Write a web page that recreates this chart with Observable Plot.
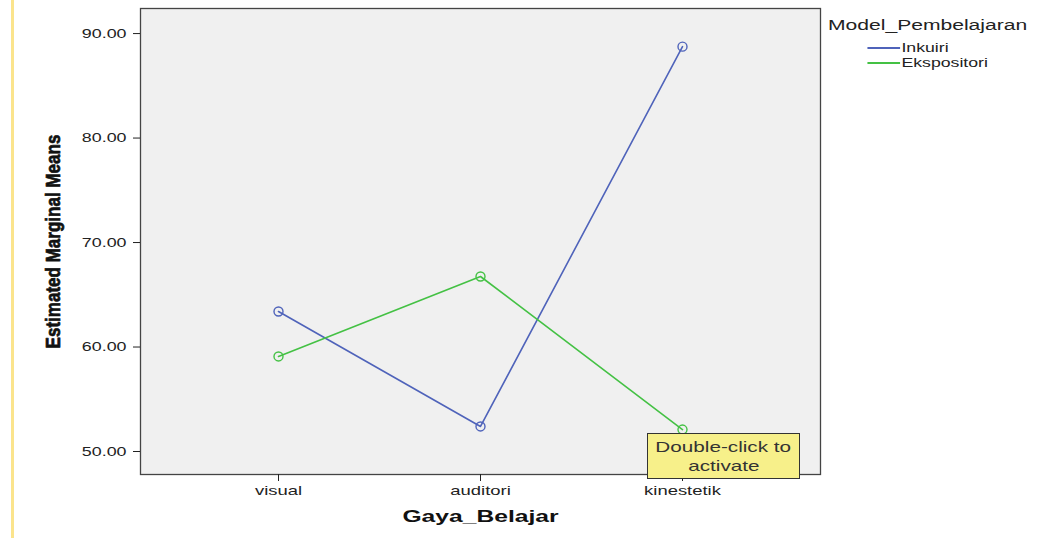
<!DOCTYPE html>
<html><head><meta charset="utf-8">
<script src="https://cdn.jsdelivr.net/npm/d3@7"></script>
<script src="https://cdn.jsdelivr.net/npm/@observablehq/plot@0.6"></script>
<style>
body{margin:0;background:#fff;font-family:"Liberation Sans",Arial,sans-serif;}
#wrap{position:relative;width:1039px;height:538px;overflow:hidden;background:#fff}
#wrap svg{position:absolute;left:0;top:0}
#yline{position:absolute;left:11px;top:0;width:3px;height:538px;background:#fbe48c}
#legend{position:absolute;left:828px;top:16px;color:#222;transform:scaleX(1.36);transform-origin:0 0}
#legend .title{font-size:15.5px}
#legend .item{position:relative;height:15px;font-size:13px;margin-left:29px;padding-left:25px;line-height:15px}
#legend .item span.sw{position:absolute;left:0;top:7px;width:24px;height:2px}
#tip{position:absolute;left:647px;top:433px;width:153px;height:46px;background:#f7f08a;border:1.5px solid #333;box-sizing:border-box;text-align:center;font-size:15px;line-height:19px;color:#333;padding-top:3px}
#tip span{display:inline-block;transform:scaleX(1.38);transform-origin:50% 50%}
</style></head><body><div id="wrap"><div id="yline"></div></div>
<script>
const categories = ["visual", "auditori", "kinestetik"];
const series = ["Inkuiri", "Ekspositori"];
const inkuiri = [63.4, 52.4, 88.75];
const ekspositori = [59.1, 66.75, 52.1];
const yTicks = [50, 60, 70, 80, 90];
const colors = ["#4f63ba", "#44c144"];
const yTitle = "Estimated Marginal Means";
const xTitle = "Gaya_Belajar";
const legendTitle = "Model_Pembelajaran";
const tipLines = ["Double-click to", "activate"];

const data = [];
categories.forEach((c, i) => {
  data.push({g: c, s: series[0], v: inkuiri[i]});
  data.push({g: c, s: series[1], v: ekspositori[i]});
});

const chart = Plot.plot({
  width: 1039, height: 538,
  marginLeft: 140, marginRight: 219, marginTop: 8, marginBottom: 64,
  style: {fontFamily: "'Liberation Sans', Arial, sans-serif", background: "transparent", color: "#222", overflow: "visible"},
  x: {type: "point", domain: categories, padding: 0.675, label: null},
  y: {domain: [47.8, 92.4], label: null},
  color: {domain: series, range: colors},
  marks: [
    Plot.frame({fill: "#f0f0f0"}),
    Plot.line(data, {x: "g", y: "v", z: "s", stroke: "s", strokeWidth: 1.6}),
    Plot.dot(data, {x: "g", y: "v", stroke: "s", r: 4.5, strokeWidth: 1.4}),
    Plot.frame({stroke: "#444", strokeWidth: 1.3}),
    Plot.axisY({ticks: yTicks, tickFormat: d3.format(".2f"), label: null, tickSize: 7, tickPadding: 7, fontSize: 12.5, stroke: "#222"}),
    Plot.axisX({label: null, tickSize: 7, tickPadding: 4, fontSize: 13, stroke: "#222"}),
    Plot.text([yTitle], {text: d => d, frameAnchor: "left", textAnchor: "middle", rotate: -90, dx: -87, fontSize: 21, fontWeight: "bold", fill: "#111", stroke: "#111", strokeWidth: 0.7}),
    Plot.text([xTitle], {text: d => d, frameAnchor: "bottom", dy: 47, fontSize: 17, fontWeight: "bold", fill: "#111"})
  ]
});
const wrap = document.getElementById("wrap");
wrap.appendChild(chart);

// horizontal stretch of text glyphs around each text's own anchor point
function stretchEl(t, s) {
  const x = +t.getAttribute("x") || 0, y = +t.getAttribute("y") || 0;
  const T = t.getAttribute("transform") || "";
  t.setAttribute("transform", `${T} translate(${x},${y}) scale(${s},1) translate(${-x},${-y})`);
}
chart.querySelectorAll('g[aria-label="y-axis tick label"] text').forEach(t => stretchEl(t, 1.43));
chart.querySelectorAll('g[aria-label="x-axis tick label"] text').forEach(t => stretchEl(t, 1.42));
chart.querySelectorAll("text").forEach(t => {
  if (t.textContent === xTitle) stretchEl(t, 1.45);
  if (t.textContent === yTitle) stretchEl(t, 214 / t.getComputedTextLength());
});

const legend = document.createElement("div");
legend.id = "legend";
legend.innerHTML = `<div class="title">${legendTitle}</div>` +
  series.map((s, i) => `<div class="item"><span class="sw" style="background:${colors[i]}"></span>${s}</div>`).join("");
legend.querySelector(".item").style.marginTop = "6px";
wrap.appendChild(legend);

const tip = document.createElement("div");
tip.id = "tip";
tip.innerHTML = tipLines.map(l => `<span>${l}</span>`).join("<br>");
wrap.appendChild(tip);
</script>
</body></html>
